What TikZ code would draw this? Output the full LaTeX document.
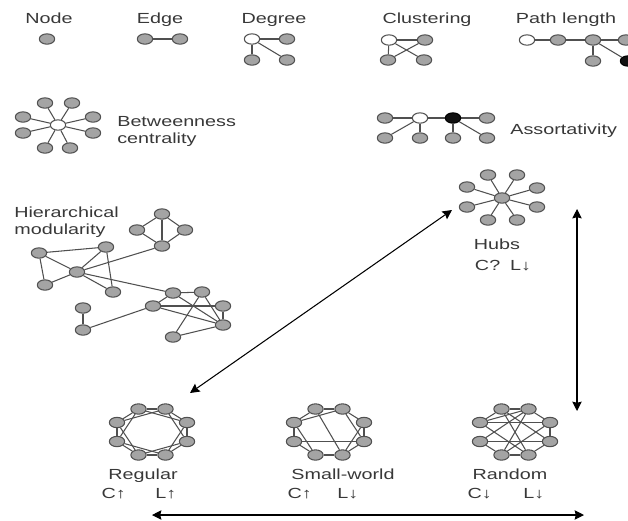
\documentclass[tikz,border=0pt]{standalone}
\usepackage{fontspec}
\setmainfont{Liberation Sans}
\usetikzlibrary{shapes.geometric, arrows.meta, backgrounds}
\definecolor{NodeGray}{HTML}{A4A4A4}
\definecolor{LinkGray}{HTML}{505050}
\definecolor{TextGray}{HTML}{383838}
\definecolor{DarkNode}{HTML}{111111}
\newcommand{\upar}{{\bfseries ↑}}
\newcommand{\dnar}{{\bfseries ↓}}

\begin{document}
\begin{tikzpicture}[
  x=0.03cm, y=-0.03cm,
  vtx/.style={ellipse, draw=LinkGray, fill=NodeGray, line width=0.9pt,
              minimum width=0.46cm, minimum height=0.31cm, inner sep=0pt},
  hollow/.style={vtx, fill=white},
  filled/.style={vtx, fill=DarkNode, draw=black},
  link/.style={draw=LinkGray, line width=0.9pt},
  lbl/.style={text=TextGray, font=\fontsize{12.5}{14.5}\selectfont, xscale=1.35,
              transform shape, inner sep=0pt, align=left},
  arr/.style={{Stealth[length=8pt, width=8pt, inset=1pt]}-{Stealth[length=8pt, width=8pt, inset=1pt]},
              line width=0.9pt, black}
]
\useasboundingbox (0,0) rectangle (628,520);

% Captions
\node[lbl, anchor=base] (tnode) at (49,23) {Node};
\node[lbl, anchor=base] (tedge) at (160,23) {Edge};
\node[lbl, anchor=base] (tdeg) at (274,23) {Degree};
\node[lbl, anchor=base] (tclus) at (427,23) {Clustering};
\node[lbl, anchor=base] (tpath) at (566,23) {Path length};
\node[lbl, anchor=north west] (tbetw) at (117,116) {Betweenness\\centrality};
\node[lbl, anchor=base west] (tassort) at (510,134) {Assortativity};
\node[lbl, anchor=north west] (thier) at (14,207) {Hierarchical\\modularity};
\node[lbl, anchor=base] (thubs) at (497,249) {Hubs};
\node[lbl, anchor=base] (thubscl) at (503,270) {C?\hspace{0.5em}L\dnar};
\node[lbl, anchor=base] (treg) at (143,479) {Regular};
\node[lbl, anchor=base] (tregcl) at (139,498) {C\upar\hspace{1.5em}L\upar};
\node[lbl, anchor=base] (tsw) at (343,479) {Small-world};
\node[lbl, anchor=base] (tswcl) at (323,498) {C\upar\hspace{1.3em}L\dnar};
\node[lbl, anchor=base] (trand) at (510,479) {Random};
\node[lbl, anchor=base] (trandcl) at (506,498) {C\dnar\hspace{1.6em}L\dnar};

% Node, edge, degree
\node[vtx] (nd) at (47,39) {};
\node[vtx] (ed1) at (145,39) {};
\node[vtx] (ed2) at (180,39) {};
\node[hollow] (dg0) at (252,39) {};
\node[vtx] (dg1) at (287,39) {};
\node[vtx] (dg2) at (252,60) {};
\node[vtx] (dg3) at (287,60) {};

% Clustering
\node[hollow] (cl1) at (389,40) {};
\node[vtx] (cl2) at (425,40) {};
\node[vtx] (cl3) at (388,60) {};
\node[vtx] (cl4) at (424,60) {};

% Path length
\node[hollow] (pl1) at (527,40) {};
\node[vtx] (pl2) at (558,40) {};
\node[vtx] (pl3) at (593,40) {};
\node[vtx] (pl4) at (626,40) {};
\node[vtx] (pl5) at (593,61) {};
\node[filled] (pl6) at (628,61) {};

% Betweenness star
\node[hollow] (bc) at (58,125) {};
\foreach \i/\dx/\dy in {1/-13/-22, 2/14/-22, 3/-35/-8, 4/35/-8, 5/-35/8, 6/35/8, 7/-13/23, 8/12/23}
  \node[vtx] (bc\i) at ([shift={(\dx,\dy)}]bc) {};

% Assortativity
\node[vtx] (as1) at (385,118) {};
\node[hollow] (as2) at (420,118) {};
\node[filled] (as3) at (453,118) {};
\node[vtx] (as4) at (487,118) {};
\node[vtx] (as5) at (385,138) {};
\node[vtx] (as6) at (420,138) {};
\node[vtx] (as7) at (453,138) {};
\node[vtx] (as8) at (487,138) {};

% Hierarchical modularity
\node[vtx] (hm1) at (162,214) {};
\node[vtx] (hm2) at (137,230) {};
\node[vtx] (hm3) at (185,230) {};
\node[vtx] (hm4) at (162,246) {};
\node[vtx] (hma) at (39,253) {};
\node[vtx] (hmb) at (106,247) {};
\node[vtx] (hmc) at (77,272) {};
\node[vtx] (hmd) at (45,285) {};
\node[vtx] (hme) at (113,292) {};
\node[vtx] (hmf) at (173,293) {};
\node[vtx] (hmg) at (202,292) {};
\node[vtx] (hmh) at (153,306) {};
\node[vtx] (hmi) at (223,306) {};
\node[vtx] (hmj) at (223,325) {};
\node[vtx] (hmk) at (173,337) {};
\node[vtx] (hml) at (83,308) {};
\node[vtx] (hmm) at (83,330) {};

% Hubs star
\node[vtx] (hub) at (502,198) {};
\foreach \i/\dx/\dy in {1/-14/-23, 2/15/-23, 3/-35/-11, 4/35/-10, 5/-35/9, 6/35/9, 7/-14/22, 8/15/22}
  \node[vtx] (hb\i) at ([shift={(\dx,\dy)}]hub) {};

% Rings
\foreach \r/\cx in {rg/152, sw/329, rd/515}
  \foreach \i/\dx/\dy in {1/-13.5/-23, 2/13.5/-23, 3/35/-9.5, 4/35/9.5,
                          5/13.5/23, 6/-13.5/23, 7/-35/9.5, 8/-35/-9.5}
    \node[vtx] (\r\i) at ({\cx+\dx},{432+\dy}) {};

% Links
\begin{scope}[on background layer]
\draw[link] (ed1) -- (ed2);
\draw[link] (dg0) -- (dg1);
\draw[link] (dg0) -- (dg2);
\draw[link] (dg0) -- (dg3);
\foreach \a/\b in {1/2, 1/3, 1/4, 3/2}
  \draw[link] (cl\a) -- (cl\b);
\foreach \a/\b in {1/2, 2/3, 3/4, 3/5, 3/6}
  \draw[link] (pl\a) -- (pl\b);
\foreach \i in {1,...,8}
  \draw[link] (bc) -- (bc\i);
\foreach \a/\b in {1/2, 2/3, 3/4, 2/5, 2/6, 3/7, 3/8}
  \draw[link] (as\a) -- (as\b);
\foreach \a/\b in {1/2, 1/3, 1/4, 2/4, 3/4, a/b, a/c, a/d, d/c, c/b, c/e, b/e, c/4,
                   c/f, f/g, h/f, h/i, h/j, f/j, g/j, g/k, k/j, i/j, l/m, m/h}
  \draw[link] (hm\a) -- (hm\b);
\foreach \i in {1,...,8}
  \draw[link] (hub) -- (hb\i);
\foreach \a/\b in {1/2, 2/3, 3/4, 4/5, 5/6, 6/7, 7/8, 8/1,
                   1/3, 2/4, 3/5, 4/6, 5/7, 6/8, 7/1, 8/2}
  \draw[link] (rg\a) -- (rg\b);
\foreach \a/\b in {1/2, 2/3, 3/4, 4/5, 5/6, 6/7, 7/8, 8/1,
                   8/2, 2/4, 3/5, 6/8, 1/5, 7/4}
  \draw[link] (sw\a) -- (sw\b);
\foreach \a/\b in {1/2, 2/3, 3/4, 4/5, 5/6, 6/7, 8/1,
                   1/4, 1/5, 2/6, 2/8, 8/3, 8/5, 7/2, 3/6, 4/7}
  \draw[link] (rd\a) -- (rd\b);
\end{scope}

% Arrows
\coordinate (hubsend) at (452,210);
\coordinate (regend) at (190,393);
\coordinate (vtop) at (577,209);
\coordinate (vbot) at (577,411);
\coordinate (hleft) at (152,515);
\coordinate (hright) at (584,515);
\draw[arr] (regend) -- (hubsend);
\draw[arr] (vtop) -- (vbot);
\draw[arr] (hleft) -- (hright);

\end{tikzpicture}
\end{document}
